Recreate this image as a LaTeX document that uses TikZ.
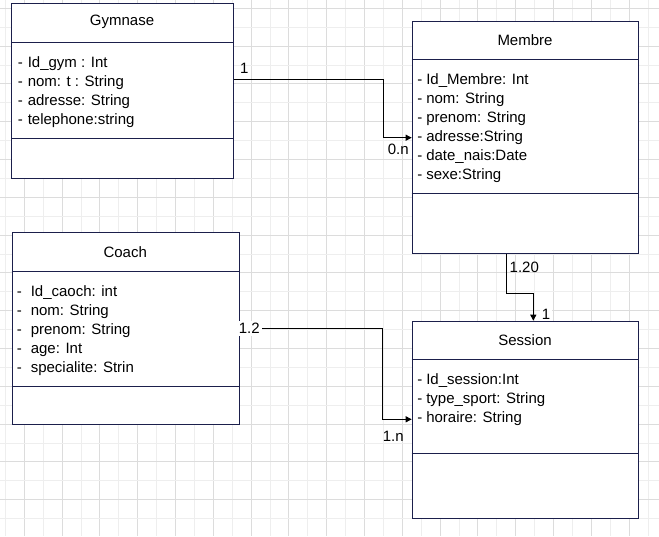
\documentclass[tikz,border=0pt]{standalone}
\usepackage{fontspec}
\setmainfont{Liberation Sans}
\usetikzlibrary{arrows.meta}
\definecolor{UMLNavy}{RGB}{27,31,75}
\definecolor{GridMajor}{RGB}{220,220,220}
\definecolor{GridMinor}{RGB}{238,238,238}
\newcommand{\attr}[2][7.5pt]{\makebox[#1][l]{-}#2}

\begin{document}
\begin{tikzpicture}[x=0.75pt,y=-0.75pt,
  every node/.style={font=\fontsize{11.25}{14.25}\selectfont},
  umlclass/.style={draw=UMLNavy, line width=0.75pt, fill=white, anchor=north west, inner sep=0pt},
  umlattrs/.style={anchor=north west, align=left, inner sep=0pt},
  assoc/.style={line width=0.75pt, -{Triangle[length=4.5pt,width=4.5pt]}},
  mult/.style={inner sep=1.5pt}]
  \useasboundingbox (0,0) rectangle (659,536);
  \foreach \i in {0,...,17} {
    \pgfmathsetmacro{\x}{5.4 + \i * 37.8}
    \draw[GridMinor, line width=0.75pt] (\x,0) -- (\x,536);
  }
  \foreach \i in {0,...,16} {
    \pgfmathsetmacro{\x}{24.3 + \i * 37.8}
    \draw[GridMajor, line width=0.75pt] (\x,0) -- (\x,536);
  }
  \foreach \i in {0,...,13} {
    \pgfmathsetmacro{\y}{27.2 + \i * 37.8}
    \draw[GridMinor, line width=0.75pt] (0,\y) -- (659,\y);
    \pgfmathsetmacro{\y}{8.3 + \i * 37.8}
    \draw[GridMajor, line width=0.75pt] (0,\y) -- (659,\y);
  }

  \node[umlclass, minimum width=166.5pt, minimum height=131.25pt] (gym) at (11.3,3) {};
  \node[umlclass, minimum width=170pt, minimum height=174.5pt] (mem) at (411.7,20.7) {};
  \node[umlclass, minimum width=170.25pt, minimum height=143.75pt] (coach) at (11.7,232.3) {};
  \node[umlclass, minimum width=170pt, minimum height=148pt] (ses) at (411.7,320.7) {};
  \foreach \n/\a/\b in {gym/42/138, mem/59.7/193.3, coach/271.7/386, ses/359.3/453.3} {
    \draw[UMLNavy, line width=0.75pt] (\n.west |- 0,\a) -- (\n.east |- 0,\a);
    \draw[UMLNavy, line width=0.75pt] (\n.west |- 0,\b) -- (\n.east |- 0,\b);
  }

  \node (gymT) at (122,22.3) {Gymnase};
  \node (memT) at (525,40.2) {Membre};
  \node (coachT) at (125.2,252.3) {Coach};
  \node (sesT) at (525,340) {Session};

  \node[umlattrs] (gymA) at (17.5,56) {\attr{Id\_gym : Int}\\ \attr{nom: t : String}\\ \attr{adresse: String}\\ \attr{telephone:string}};
  \node[umlattrs] (memA) at (417,73.7) {\attr[6.75pt]{Id\_Membre: Int}\\ \attr[6.75pt]{nom: String}\\ \attr[6.75pt]{prenom: String}\\ \attr[6.75pt]{adresse:String}\\ \attr[6.75pt]{date\_nais:Date}\\ \attr[6.75pt]{sexe:String}};
  \node[umlattrs] (coachA) at (16.5,285.7) {\attr[10.5pt]{Id\_caoch: int}\\ \attr[10.5pt]{nom: String}\\ \attr[10.5pt]{prenom: String}\\ \attr[10.5pt]{age: Int}\\ \attr[10.5pt]{specialite: Strin}};
  \node[umlattrs] (sesA) at (417,373.3) {\attr[6.75pt]{Id\_session:Int}\\ \attr[6.75pt]{type\_sport: String}\\ \attr[6.75pt]{horaire: String}};

  \draw[assoc] (gym.east |- 0,79.3) -- (383.3,79.3) |- (mem.west |- 0,137.7);
  \draw[assoc] (mem.south -| 506,0) |- (533.3,293.3) -- (ses.north -| 533.3,0);
  \draw[assoc] (coach.east |- 0,328.3) -- (382.3,328.3) |- (ses.west |- 0,419.3);

  \node[mult] (gymM) at (244.3,68.3) {1};
  \node[mult] (memM) at (398.3,149.5) {0.n};
  \node[mult] (memS) at (524.3,267.3) {1.20};
  \node[mult, fill=white] (sesM) at (546,314.3) {1};
  \node[mult, fill=white] (coachM) at (249.3,328.3) {1.2};
  \node[mult] (sesC) at (393.3,436) {1.n};
\end{tikzpicture}
\end{document}
